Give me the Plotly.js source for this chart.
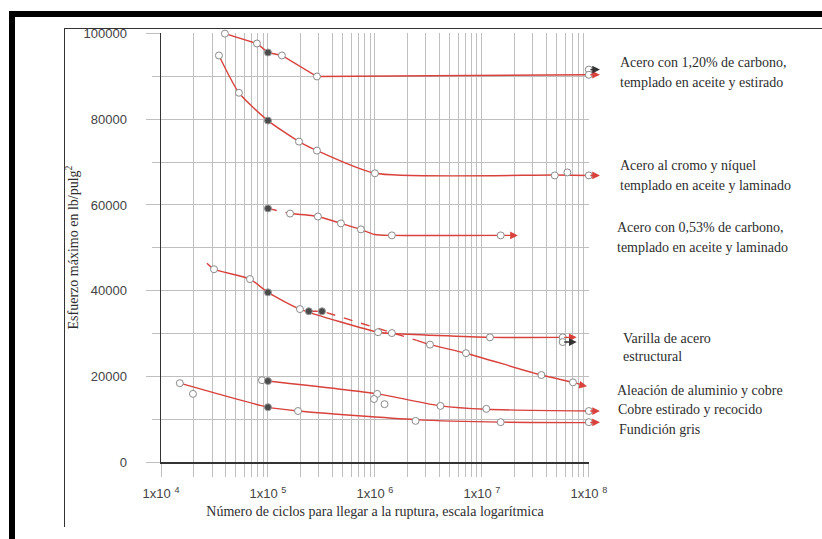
<!DOCTYPE html>
<html>
<head>
<meta charset="utf-8">
<script src="https://cdn.plot.ly/plotly-3.0.1.min.js"></script>
<style>
html,body{margin:0;padding:0;background:#fff;}
#wrap{position:relative;width:822px;height:539px;overflow:hidden;}
#chart{position:absolute;left:0;top:0;width:822px;height:539px;}
.fr{position:absolute;pointer-events:none;}
</style>
</head>
<body>
<div id="wrap">
<div id="chart"></div>
<div class="fr" style="left:9px;top:11px;width:813px;height:6px;background:#000;"></div>
<div class="fr" style="left:9px;top:11px;width:6px;height:528px;background:#000;"></div>
<div class="fr" style="left:64px;top:28px;width:758px;height:1px;background:#333;"></div>
<div class="fr" style="left:64px;top:28px;width:1px;height:499px;background:#333;"></div>
</div>
<script>
// ---------- data (cycles, stress lb/in^2) ----------
const decades = [1e4, 1e5, 1e6, 1e7, 1e8];
const decadeText = ['1x10 <sup>4</sup>', '1x10 <sup>5</sup>', '1x10 <sup>6</sup>', '1x10 <sup>7</sup>', '1x10 <sup>8</sup>'];
const yTicks = [0, 20000, 40000, 60000, 80000, 100000];
const yTickText = ['0', '20000', '40000', '60000', '80000', '100000'];

// Acero con 1,20% de carbono
const a120LineX = [39600, 78900, 100000, 135000, 287000, 1e8];
const a120LineY = [100000, 97700, 95600, 94900, 90000, 90400];
const a120OpenX = [39600, 78900, 135000, 287000, 1e8, 1e8];
const a120OpenY = [100000, 97700, 94900, 90000, 91600, 90400];
const a120DarkX = [100000];
const a120DarkY = [95600];

// Acero al cromo y níquel
const crLineX = [34800, 53500, 100000, 195000, 287000, 1e6, 4.8e7, 1e8];
const crLineY = [94900, 86200, 79700, 74800, 72700, 67400, 67000, 66900];
const crOpenX = [34800, 53500, 195000, 287000, 1e6, 4.8e7, 6.3e7, 1e8];
const crOpenY = [94900, 86200, 74800, 72700, 67400, 66900, 67600, 66900];
const crDarkX = [100000];
const crDarkY = [79700];

// Acero con 0,53% de carbono
const a053DashX = [100000, 161000];
const a053DashY = [59200, 58000];
const a053LineX = [161000, 293000, 481000, 740000, 1e6, 1.44e6, 2.0e7];
const a053LineY = [58000, 57300, 55700, 54300, 53100, 52900, 52900];
const a053OpenX = [161000, 293000, 481000, 740000, 1.44e6, 1.5e7];
const a053OpenY = [58000, 57300, 55700, 54300, 52900, 52900];
const a053DarkX = [100000];
const a053DarkY = [59200];

// Varilla de acero estructural
const varLineX = [26900, 31300, 67900, 100000, 199000, 1.07e6, 1.44e6, 1.19e7, 5.7e7];
const varLineY = [46400, 45000, 42700, 39600, 35700, 30300, 30000, 29100, 29100];
const varOpenX = [31300, 67900, 199000, 1.07e6, 1.44e6, 1.19e7, 5.7e7, 5.7e7];
const varOpenY = [45000, 42700, 35700, 30300, 30100, 29100, 29100, 28000];
const varDarkX = [100000];
const varDarkY = [39600];

// Aleación de aluminio y cobre
const alDashX = [241000, 320000, 2.46e6];
const alDashY = [35200, 35200, 28400];
const alLineX = [2.46e6, 3.27e6, 7.1e6, 3.6e7, 7.1e7, 9.0e7];
const alLineY = [28400, 27400, 25400, 20300, 18600, 17900];
const alOpenX = [3.27e6, 7.1e6, 3.6e7, 7.1e7];
const alOpenY = [27400, 25400, 20300, 18600];
const alDarkX = [241000, 320000];
const alDarkY = [35200, 35200];

// Cobre estirado y recocido
const cuLineX = [100000, 1.05e6, 4.1e6, 1.1e7, 1e8];
const cuLineY = [18900, 15900, 13100, 12300, 11900];
const cuOpenX = [87900, 1.05e6, 9.8e5, 1.23e6, 4.1e6, 1.1e7, 1e8];
const cuOpenY = [19100, 15900, 14700, 13500, 13100, 12400, 11900];
const cuDarkX = [100000];
const cuDarkY = [18900];

// Fundición gris
const feLineX = [15000, 100000, 191000, 2.4e6, 1.5e7, 1e8];
const feLineY = [18400, 12800, 11900, 9900, 9300, 9200];
const feOpenX = [15000, 19900, 191000, 2.4e6, 1.5e7, 1e8];
const feOpenY = [18400, 15900, 11900, 9600, 9300, 9300];
const feDarkX = [100000];
const feDarkY = [12800];

// arrows
const arrowStartX = [1e8, 1e8, 1e8, 1.85e7, 5.7e7, 5.7e7, 8.0e7, 1e8, 1e8];
const arrowStartY = [90400, 91600, 66900, 52900, 29100, 28000, 18100, 11900, 9200];
const arrowEndX   = [1.27e8, 1.27e8, 1.27e8, 2.17e7, 7.7e7, 7.7e7, 9.6e7, 1.27e8, 1.27e8];
const arrowEndY   = [90400, 91600, 66900, 52900, 29100, 28000, 17700, 11900, 9300];
const arrowDark   = [false, true, false, false, false, true, false, false, false];

// labels
const labelLines = [
  'Acero con 1,20% de carbono,', 'templado en aceite y estirado',
  'Acero al cromo y níquel', 'templado en aceite y laminado',
  'Acero con 0,53% de carbono,', 'templado en aceite y laminado',
  'Varilla de acero', 'estructural',
  'Aleación de aluminio y cobre',
  'Cobre estirado y recocido',
  'Fundición gris'
];

// ---------- styling ----------
const RED = '#d8413c';
const lineStyle = {color: RED, width: 1.4, shape: 'spline', smoothing: 0.6};
function lineTrace(x, y, dash, shape) {
  return {x: x, y: y, type: 'scatter', mode: 'lines', hoverinfo: 'skip', showlegend: false,
          line: Object.assign({}, lineStyle, {dash: dash || 'solid', shape: shape || 'spline'})};
}
function openTrace(x, y) {
  return {x: x, y: y, type: 'scatter', mode: 'markers', showlegend: false, cliponaxis: false,
          marker: {symbol: 'circle', size: 7, color: '#ffffff', line: {color: '#8a8a8a', width: 1}}};
}
function darkTrace(x, y) {
  return {x: x, y: y, type: 'scatter', mode: 'markers', showlegend: false, cliponaxis: false,
          marker: {symbol: 'circle', size: 7, color: '#4a4a4a', line: {color: '#9a9a9a', width: 1}}};
}

const traces = [
  lineTrace(a120LineX, a120LineY, 'solid', 'linear'),
  lineTrace(crLineX, crLineY),
  lineTrace(a053DashX, a053DashY, 'dash', 'linear'),
  lineTrace(a053LineX, a053LineY),
  lineTrace(varLineX, varLineY),
  lineTrace(alDashX, alDashY, 'dash', 'linear'),
  lineTrace(alLineX, alLineY),
  lineTrace(cuLineX, cuLineY),
  lineTrace(feLineX, feLineY),
  openTrace(a120OpenX, a120OpenY), darkTrace(a120DarkX, a120DarkY),
  openTrace(crOpenX, crOpenY), darkTrace(crDarkX, crDarkY),
  openTrace(a053OpenX, a053OpenY), darkTrace(a053DarkX, a053DarkY),
  openTrace(varOpenX, varOpenY), darkTrace(varDarkX, varDarkY),
  openTrace(alOpenX, alOpenY), darkTrace(alDarkX, alDarkY),
  openTrace(cuOpenX, cuOpenY), darkTrace(cuDarkX, cuDarkY),
  openTrace(feOpenX, feOpenY), darkTrace(feDarkX, feDarkY)
];

// minor ticks 2..9 per decade
const minorVals = [];
decades.slice(0, -1).forEach(d => { for (let k = 2; k <= 9; k++) minorVals.push(k * d); });

const W = 822, H = 539, L = 161, R = 233, T = 33, B = 77;
const plotW = W - L - R, plotH = H - T - B;
const px = v => (v - L) / plotW;
const py = v => (H - B - v) / plotH;

const annotations = [];
arrowStartX.forEach((sx, i) => {
  annotations.push({
    x: Math.log10(arrowEndX[i]), y: arrowEndY[i],
    ax: Math.log10(sx), ay: arrowStartY[i], axref: 'x', ayref: 'y', xref: 'x', yref: 'y',
    text: '', showarrow: true, arrowhead: 2, arrowsize: 1.1, arrowwidth: 1.4,
    arrowcolor: arrowDark[i] ? '#333333' : RED, standoff: 0, startstandoff: 0
  });
});
const labelPX = [618, 618, 618, 618, 615, 615, 621, 621, 615, 616, 617];
const labelPY = [62, 82, 165, 185, 227, 247, 338, 356, 390, 409, 429];
labelLines.forEach((t, i) => {
  annotations.push({
    xref: 'paper', yref: 'paper', x: px(labelPX[i]), y: py(labelPY[i]),
    xanchor: 'left', yanchor: 'middle', showarrow: false, text: t,
    font: {family: 'Liberation Serif, Times New Roman, serif', size: 14, color: '#2e2e2e'}
  });
});

const GRID = '#bfbfbf';
const layout = {
  width: W, height: H,
  margin: {l: L, r: R, t: T, b: B, pad: 0},
  paper_bgcolor: '#ffffff', plot_bgcolor: '#ffffff',
  showlegend: false,
  xaxis: {
    type: 'log', range: [4, 8.0015], autorange: false,
    tickmode: 'array', tickvals: decades, ticktext: decadeText,
    ticks: 'outside', ticklen: 13, tickcolor: GRID, tickwidth: 1,
    showgrid: true, gridcolor: GRID, gridwidth: 1,
    minor: {tickmode: 'array', tickvals: minorVals, showgrid: true, gridcolor: GRID, gridwidth: 1,
            ticks: 'outside', ticklen: 13, tickcolor: GRID},
    showline: true, linecolor: '#333333', linewidth: 1.5, zeroline: false,
    ticklabelstandoff: 6,
    tickfont: {family: 'Liberation Sans, Arial, sans-serif', size: 13, color: '#444'},
    title: {text: 'Número de ciclos para llegar a la ruptura, escala logarítmica', standoff: 6,
            font: {family: 'Liberation Serif, Times New Roman, serif', size: 14, color: '#2e2e2e'}}
  },
  yaxis: {
    range: [0, 100150], autorange: false,
    tickmode: 'array', tickvals: yTicks, ticktext: yTickText,
    ticks: 'outside', ticklen: 14, tickcolor: GRID, tickwidth: 1,
    showgrid: true, gridcolor: GRID, gridwidth: 1,
    minor: {dtick: 10000, showgrid: true, gridcolor: GRID, gridwidth: 1,
            ticks: 'outside', ticklen: 8, tickcolor: GRID},
    showline: true, linecolor: '#333333', linewidth: 1.5, zeroline: false,
    ticklabelstandoff: 16,
    tickfont: {family: 'Liberation Sans, Arial, sans-serif', size: 13, color: '#444'},
    title: {text: 'Esfuerzo máximo en lb/pulg<sup>2</sup>', standoff: 1,
            font: {family: 'Liberation Serif, Times New Roman, serif', size: 14, color: '#2e2e2e'}}
  },
  annotations: annotations
};

Plotly.newPlot('chart', traces, layout, {displayModeBar: false, staticPlot: true});
</script>
</body>
</html>
